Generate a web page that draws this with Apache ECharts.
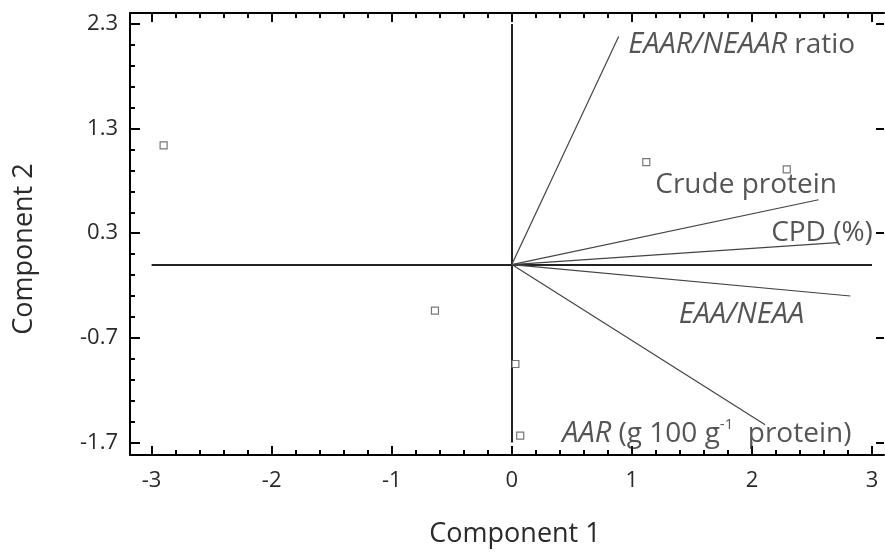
<!DOCTYPE html>
<html>
<head>
<meta charset="utf-8">
<script src="https://cdn.jsdelivr.net/npm/echarts@6/dist/echarts.min.js"></script>
<style>html,body{margin:0;padding:0;background:#fff;}#chart{width:885px;height:557px;}</style>
</head>
<body>
<div id="chart"></div>
<script>
// ---- data ----
const xTicks = [-3, -2, -1, 0, 1, 2, 3];
const yTicks = [-1.7, -0.7, 0.3, 1.3, 2.3];
const xMinorTicks = [-2.8,-2.6,-2.4,-2.2,-1.8,-1.6,-1.4,-1.2,-0.8,-0.6,-0.4,-0.2,0.2,0.4,0.6,0.8,1.2,1.4,1.6,1.8,2.2,2.4,2.6,2.8];
const yMinorTicks = [-1.5,-1.3,-1.1,-0.9,-0.5,-0.3,-0.1,0.1,0.5,0.7,0.9,1.1,1.5,1.7,1.9,2.1];

// sample scores (Component 1, Component 2)
const scoreX = [-2.90, 1.12, 2.29, -0.64, 0.03, 0.07];
const scoreY = [1.14, 0.98, 0.91, -0.44, -0.95, -1.635];

// variable loadings (vector end points)
const vectorNames = ['EAAR/NEAAR ratio', 'Crude protein', 'CPD (%)', 'EAA/NEAA', 'AAR (g 100 g-1 protein)'];
const vectorX = [0.89, 2.555, 2.71, 2.82, 2.11];
const vectorY = [2.18, 0.62, 0.21, -0.30, -1.53];

// label anchor positions (data units)
const labelX = [0.97, 1.195, 2.16, 1.39, 0.42];
const labelY = [2.10, 0.76, 0.30, -0.48, -1.62];
const labelRich = [
  '{i|EAAR/NEAAR}{n| ratio}',
  '{n|Crude protein}',
  '{n|CPD (%)}',
  '{i|EAA/NEAA}',
  '{i|AAR}{n| (g 100 g}{s|-1}{n|  protein)}'
];

// reference axes through origin
const hLineX = [-3, 3];
const vLineY = [-1.7, 2.3];

const X_MIN = -3.18, X_MAX = 3.1, Y_MIN = -1.82, Y_MAX = 2.405;
const FONT = 'Open Sans';
const TXT = '#2a2a2a';

function xAxisDef(pos, ticks, len, showLine, labels) {
  return {
    type: 'value', position: pos, min: X_MIN, max: X_MAX, gridIndex: 0,
    splitLine: {show: false},
    axisLine: {show: showLine, onZero: false, lineStyle: {color: '#000', width: 2}},
    axisTick: {show: true, inside: true, length: len, customValues: ticks, lineStyle: {color: '#000', width: 2}},
    axisLabel: labels ? {show: true, customValues: ticks, fontFamily: FONT, fontSize: 22, color: TXT, margin: 15,
      formatter: v => String(v)} : {show: false},
    minorTick: {show: false}
  };
}
function yAxisDef(pos, ticks, len, showLine, labels) {
  return {
    type: 'value', position: pos, min: Y_MIN, max: Y_MAX, gridIndex: 0,
    splitLine: {show: false},
    axisLine: {show: showLine, onZero: false, lineStyle: {color: '#000', width: 2}},
    axisTick: {show: true, inside: true, length: len, customValues: ticks, lineStyle: {color: '#000', width: 2}},
    axisLabel: labels ? {show: true, customValues: ticks, fontFamily: FONT, fontSize: 22, color: TXT, margin: 12,
      formatter: v => v.toFixed(1)} : {show: false}
  };
}

const xAxes = [
  Object.assign(xAxisDef('bottom', xTicks, 9, true, true), {
    name: 'Component 1', nameLocation: 'middle', nameGap: 66,
    nameTextStyle: {fontFamily: FONT, fontSize: 27, color: TXT, padding: [0, 0, 0, 16]}
  }),
  xAxisDef('bottom', xMinorTicks, 5, false, false),
  xAxisDef('top', xTicks, 9, true, false),
  xAxisDef('top', xMinorTicks, 5, false, false)
];
const yAxes = [
  Object.assign(yAxisDef('left', yTicks, 10, true, true), {
    name: 'Component 2', nameLocation: 'middle', nameGap: 92,
    nameTextStyle: {fontFamily: FONT, fontSize: 27, color: TXT, padding: [0, 30, 0, 0]}
  }),
  yAxisDef('left', yMinorTicks, 5, false, false),
  yAxisDef('right', yTicks, 8, false, false)
];

const series = [];
// axes through origin
series.push({
  type: 'lines', coordinateSystem: 'cartesian2d', xAxisIndex: 0, yAxisIndex: 0, silent: true,
  lineStyle: {color: '#222', width: 2, opacity: 1},
  data: [
    {coords: [[hLineX[0], 0], [hLineX[1], 0]]},
    {coords: [[0, vLineY[0]], [0, vLineY[1]]]}
  ]
});
// vectors
series.push({
  type: 'lines', coordinateSystem: 'cartesian2d', xAxisIndex: 0, yAxisIndex: 0, silent: true,
  lineStyle: {color: '#444', width: 1.2, opacity: 1},
  data: vectorX.map((x, i) => ({name: vectorNames[i], coords: [[0, 0], [x, vectorY[i]]]}))
});
// scores
series.push({
  type: 'scatter', xAxisIndex: 0, yAxisIndex: 0, symbol: 'rect', symbolSize: 7,
  itemStyle: {color: '#fff', borderColor: '#555', borderWidth: 1.2},
  data: scoreX.map((x, i) => [x, scoreY[i]])
});
// vector labels
series.push({
  type: 'scatter', xAxisIndex: 0, yAxisIndex: 0, symbolSize: 0, silent: true,
  label: {
    show: true, position: 'right', distance: 0,
    rich: {
      n: {fontFamily: FONT, fontSize: 28, color: TXT, lineHeight: 34},
      i: {fontFamily: FONT, fontSize: 29, color: TXT, fontStyle: 'italic', lineHeight: 34},
      s: {fontFamily: FONT, fontSize: 15, color: TXT, verticalAlign: 'top', lineHeight: 34}
    }
  },
  data: labelX.map((x, i) => ({name: vectorNames[i], value: [x, labelY[i]], label: {formatter: labelRich[i]}}))
});

const chart = echarts.init(document.getElementById('chart'), null, {renderer: 'canvas'});
chart.setOption({
  animation: false,
  backgroundColor: '#fff',
  grid: {left: 130, top: 13, width: 754, height: 442, containLabel: false},
  xAxis: xAxes,
  yAxis: yAxes,
  series: series
});
</script>
</body>
</html>
